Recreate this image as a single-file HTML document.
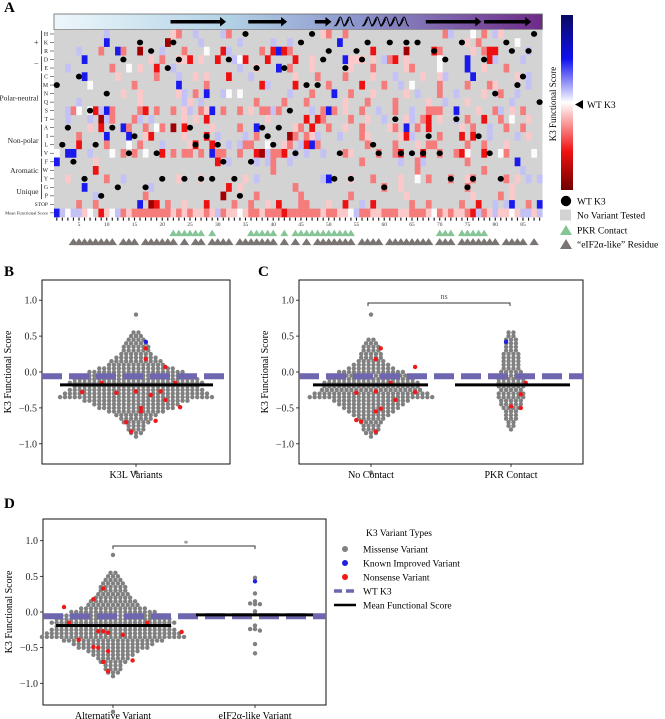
<!DOCTYPE html>
<html><head><meta charset="utf-8">
<style>
html,body{margin:0;padding:0;background:#fff;}
svg{display:block;font-family:"Liberation Serif",serif;}
</style></head>
<body>
<svg id="fig" width="665" height="719" viewBox="0 0 665 719">
<defs>
<linearGradient id="ss" x1="0" x2="1" y1="0" y2="0">
<stop offset="0" stop-color="#eef7fb"/><stop offset="0.35" stop-color="#b3d3e6"/><stop offset="0.62" stop-color="#8c96cc"/><stop offset="1" stop-color="#6e2a88"/></linearGradient>
<linearGradient id="cb" x1="0" x2="0" y1="0" y2="1">
<stop offset="0" stop-color="#0a0a60"/><stop offset="0.25" stop-color="#1010f0"/><stop offset="0.5" stop-color="#ffffff"/><stop offset="0.78" stop-color="#f01010"/><stop offset="1" stop-color="#700000"/></linearGradient>
</defs>
<g id="panelA"></g>
<g id="panelB"></g>
<g id="panelC"></g>
<g id="panelD"></g>
</svg>
<script>
// ---------- Heatmap data ----------
const rowLabels = ["H","K","R","D","E","C","M","N","Q","S","T","A","I","L","V","F","W","Y","G","P","STOP","Mean Functional Score"];
const wtSequence = "MLAFCYSLPNAGDVIKGRVYEKDYALYIYLFDYPHFEAILAESVKMHMDRYVEYRDKLVGKTVKVKVIRVDYTKGYIDVNYKRMCRHQ";
const heatRows = [
".........l" + ".........." + ".pr..l...." + "lr........" + "........pr" + "..r......." + ".........." + "rl...w.r.l" + "p.......",
".........B" + ".........." + "D.....l..." + "...l.....l" + "..l......." + ".B........" + ".........." + "....p.r..." + "...w....",
"....l...r." + ".Br..D...l" + "...r...w.." + "Rl.....r.R" + "BRr......." + ".......R.." + "...D....Rr" + ".....p.rRR" + ".....l..",
".....B...." + ".......p.r" + "..ppR.p..R" + "..lwR...R." + "...R..p..." + "..Bppp.p.l" + "rR.p.....w" + "....B...Rl" + "....l...",
"..l......." + "r..w.p..R." + ".l........" + "...l..p..." + "B.r...p..." + "...p...r.." + "...pr....w" + "....B..p.." + ".r......",
".....B...." + ".p......r." + "..l..p.p.." + ".R...l...." + "...p...r.." + "..r....p.." + ".l....p..p" + "l....B...." + "...p.l..",
"......w..." + "....r....." + "..B....r.." + ".......Rl." + "...R.....r" + ".....R...r" + "..l.w....r" + "....r...rp" + ".....l..",
".........." + "..p..p...." + "..pl.r.B.." + "lw.w......" + "..l...r..." + "B..r...p.." + "...p.l...r" + "..l....p.." + "r..l....",
"....l....." + ".....p...." + "...lp.l..." + "......r..." + ".r...r...." + "..p...r..." + ".r.....p.." + "l...p....." + "..l.....",
"..lrw.wRlB" + "r....rR.r." + ".r.pl.rpB." + "r..r.p.rrl" + "r.....l.rB" + "r.p..r..l." + ".r..l..rrr" + "..B...p..r" + "l.p.r...",
"..l...l.Dl" + "r...rl.l.." + "...p.p.R.." + "........p." + ".....R.Rr." + "...r..p..l" + "...pl.rR.p" + "..l.r..R.." + "r.w..p..",
"......p.R." + "..Br..r.wr" + ".D.R....p." + "...r..B..." + "...pr.R..r" + "..p..r...." + "pr.B.r.R.." + "...p.r..l." + ".r..r...",
"....r....B" + "...B..pR.." + "...p...R.l" + "....l.r..." + "..Dr.rpl.." + ".l...rp..." + "..pRl....r" + "...R.R..l." + "...l.p..",
"....R....r" + "...w.r...l" + "....pR..R." + ".l.lrr..w." + ".pr.lRBr.." + "......r..." + ".r...p.rr." + "....r..r.." + ".p......",
"w.BB..l..." + "w.r.r.w..R" + ".r.rr.r.Br" + "r..r..RDlr" + "rR.l.l..l." + "..rp....r." + ".rR...R..r" + "..rRw..R.." + "wr....w.",
"B......p.." + ".........." + ".........R" + ".l....l.lr" + "..l......." + ".....r...." + "..l..rl..." + "....r....." + "...B....",
".......R.." + ".........." + ".........." + ".........r" + ".........." + ".........." + ".....r...." + ".......r.." + "....l...",
"..p......r" + "..l......." + "..p...p..." + "....p.l..." + "........lB" + "...p...r.." + "..p..w.r.." + ".r..pr...." + ".r.p.l.l",
".....B...." + ".......l.." + ".........." + ".R.p......" + "...r......" + ".........r" + "..p......." + "....r....." + "..p.....",
".......l.." + "......r..." + ".........." + "D.....r..." + "....r....." + "...r......" + "...p......" + ".....p...." + "r.p.....",
"....r..r.." + ".....B.DR." + "r..p...R.." + "..r..r..p." + "R...rr...p" + "..R..l.R.." + "....r..r.." + "...r..R..l" + ".lB..r.B",
"Blwllpw.Rp" + "wlrprrrrrr" + "rprprpprpl" + "rppwprrprr" + "rRrrrrrrpr" + "rppwlrrppr" + "rrpprrrpwr" + "prpprRlrpl" + "ppwpllpl"
];
const pkrContact = [22,23,24,25,26,27,29,36,37,38,39,40,42,44,45,46,47,48,49,50,51,52,53,54,70,71,72,74,75,76,77,78];
const eif2Like = [4,5,6,7,8,9,10,11,13,14,15,17,18,19,20,21,22,24,26,27,29,30,31,32,34,35,36,37,38,39,40,42,44,46,48,49,50,51,52,53,54,56,57,58,59,61,62,63,64,65,66,67,68,70,71,72,74,75,76,77,78,79,80,82,83,84,85,87];
const levelColor = {D:"#a00000",R:"#ee1111",r:"#f67c7c",p:"#fbc9c9",w:"#fbfbfb",l:"#c2c2f6",B:"#1a1aee"};

// ---------- Swarm data (counts per 0.05 bin, from top bin value downward) ----------
const binTopB = 0.80;
const countsB = [1,0,0,0,0,2,3,4,5,6,6,7,9,11,12,16,20,24,26,28,26,28,30,32,22,18,16,12,9,7,6,4,4,3,1,0,0,0,0,0,0,0,0,0,1];
const redB = [0.33,0.18,0.07,-0.07,-0.15,-0.28,-0.29,-0.27,-0.32,-0.39,-0.49,-0.50,-0.55,-0.68,-0.70,-0.83,-0.15,-0.27];
const redSlotB = [2,2,6,-5,-7,-11,-4,0,3,6,9,1,1,4,-2,-1,8,5];
const blueB = [0.42]; const blueSlotB = [2];
const meanB = -0.18, wtScore = -0.06;

const countsC1 = [1,0,0,0,0,0,0,2,3,4,4,5,5,6,8,10,14,17,18,20,20,21,24,26,16,14,12,10,8,6,5,4,4,3,1,0,0,0,0,0,0,0,0,0,1];
const redC1 = [0.33,0.18,0.07,-0.15,-0.27,-0.29,-0.39,-0.28,-0.51,-0.55,-0.67,-0.69,-0.83];
const redSlotC1 = [2,1,9,4,1,-3,5,9,2,1,-3,-2,1];
const countsC2 = [2,2,3,3,3,3,4,4,4,4,4,5,5,6,6,6,5,6,6,5,5,4,3,3,3,2,2,1];
const binTopC2 = 0.55;
const redC2 = [-0.07,-0.15,-0.31,-0.48,-0.50];
const redSlotC2 = [-1,3,2,0,2];
const blueC2 = [0.42]; const blueSlotC2 = [-1];
const meanC1 = -0.18, meanC2 = -0.18;

const countsD1 = [1,0,0,0,0,2,3,4,5,6,6,7,8,10,11,14,18,22,24,26,24,26,28,30,21,17,15,11,9,7,6,4,4,3,1,0,0,0,0,0,0,0,0,0,1];
const redD1 = [0.33,0.18,0.07,-0.07,-0.15,-0.28,-0.29,-0.27,-0.32,-0.39,-0.49,-0.50,-0.55,-0.68,-0.70,-0.83,-0.15,-0.27];
const redSlotD1 = [-2,-4,-10,-8,-9,14,-1,-2,2,-7,-4,-3,-1,4,-2,-1,7,-3];
const eifValues = [0.48,0.26,0.15,0.12,0.11,0.11,0.01,-0.03,-0.19,-0.24,-0.24,-0.26,-0.45,-0.58];
const eifSlots = [0,0,0,-1,0,1,0,0,0,-1,0,1,0,0];
const blueD2 = [0.43];
const meanD1 = -0.19, meanD2 = -0.04;

// ---------- helpers ----------
const NS = "http://www.w3.org/2000/svg";
function mk(parent, tag, attrs, text){
  const e = document.createElementNS(NS, tag);
  for (const k in attrs) e.setAttribute(k, attrs[k]);
  if (text !== undefined) e.textContent = text;
  parent.appendChild(e);
  return e;
}

// ---------- Panel A ----------
const A = document.getElementById("panelA");
const hx0 = 54, cw = 5.55, hy0 = 29.7, rh = 8.52, nCols = 88;
const colX = c => hx0 + (c - 1) * cw;
const rowY = r => hy0 + r * rh;

let t = mk(A, "text", {x:4, y:12, "font-size":15, "font-weight":"bold"}, "A");



let bar = mk(A, "rect", {x:hx0, y:14, width:nCols*cw, height:15.5, fill:"url(#ss)", stroke:"#666", "stroke-width":0.8});


const strands = [[22,32],[36,43],[48,51],[68,78],[78.5,87]];
strands.forEach(s => {
  const x1 = colX(s[0]), x2 = colX(s[1]);
  const a = mk(A, "path", {d:`M${x1} 20 L${x2-6} 20 L${x2-6} 17 L${x2} 21.8 L${x2-6} 26.5 L${x2-6} 23.5 L${x1} 23.5 Z`, fill:"#000"});
  
  
});
const helices = [[51.5,55],[56.5,65]];
helices.forEach(h => {
  let d = "";
  for (let x = colX(h[0]); x < colX(h[1]) - 4; x += 9) {
    d += `M${x} 26 C${x+3} 26 ${x+4} 17 ${x+6} 17 C${x+8} 17 ${x+8} 26 ${x+11} 26 M${x+1.5} 26 C${x+4} 24 ${x+5} 19 ${x+6} 19 `;
  }
  const p = mk(A, "path", {d:d, fill:"none", stroke:"#000", "stroke-width":1});
  
  
});

let bg = mk(A, "rect", {x:hx0, y:hy0, width:nCols*cw, height:rowLabels.length*rh, fill:"#d3d3d3"});



heatRows.forEach((row, r) => {
  for (let c = 1; c <= nCols; c++) {
    const ch = row[c-1];
    if (!ch || !levelColor[ch]) continue;
    const cell = mk(A, "rect", {x:colX(c), y:rowY(r), width:cw+0.2, height:rh+0.2, fill:levelColor[ch]});
    
    
  }
});
for (let c = 1; c <= nCols; c++) {
  const r = rowLabels.indexOf(wtSequence[c-1]);
  if (r < 0) continue;
  const d = mk(A, "ellipse", {cx:colX(c)+cw/2, cy:rowY(r)+rh/2, rx:3.1, ry:2.9, fill:"#000"});
  
  
}
rowLabels.forEach((lab, r) => {
  const y = rowY(r) + rh/2;
  const small = lab.length > 1;
  const tx = mk(A, "text", {x:48, y:y+1.8, "font-size":small ? (lab.length > 5 ? 4.6 : 5.5) : 5.8, "text-anchor":"end", fill:"#222"}, lab);
  
  
  const tk = mk(A, "line", {x1:50, x2:hx0, y1:y, y2:y, stroke:"#333", "stroke-width":0.6});
  
  
});
const groups = [["+",0,2],["\u2212",3,4],["Polar-neutral",5,10],["Non-polar",11,14],["Aromatic",15,17],["Unique",18,19]];
groups.forEach(g => {
  const y1 = rowY(g[1]) + 1, y2 = rowY(g[2] + 1) - 1;
  const l = mk(A, "line", {x1:41.5, x2:41.5, y1:y1, y2:y2, stroke:"#222", "stroke-width":0.8});
  
  
  const tx = mk(A, "text", {x:38.5, y:(y1+y2)/2 + 2.5, "font-size":g[0].length > 1 ? 7.5 : 8, "text-anchor":"end", fill:"#222"}, g[0]);
  
  
});
const axY = rowY(rowLabels.length);
for (let c = 1; c <= nCols; c++) {
  const x = colX(c) + cw/2;
  const tk = mk(A, "line", {x1:x, x2:x, y1:axY+0.5, y2:axY+3.5, stroke:"#111", "stroke-width":1.1});
  
  
  if (c % 5 === 0) {
    const tx = mk(A, "text", {x:x, y:axY+9, "font-size":5.5, "text-anchor":"middle", fill:"#333"}, String(c));
    
    
  }
}
function tri(c, y, color, name, w, h){
  const x = colX(c) + cw/2;
  const p = mk(A, "polygon", {points:`${x-w/2},${y+h} ${x+w/2},${y+h} ${x},${y}`, fill:color});
  
  
}
pkrContact.forEach(c => tri(c, axY+12.5, "#86c596", "pkr-contact-marker", 8, 6.5));
eif2Like.forEach(c => tri(c, axY+21, "#7a7473", "eif2-like-marker", 9.5, 7));

let cbr = mk(A, "rect", {x:561, y:15, width:12, height:175, fill:"url(#cb)"});


let cbt = mk(A, "text", {x:0, y:0, "font-size":9, "text-anchor":"middle", transform:"translate(556,104) rotate(-90)"}, "K3 Functional Score");


let wtm = mk(A, "polygon", {points:"575,104.5 583,100 583,109", fill:"#000"});


let wtt = mk(A, "text", {x:587, y:108, "font-size":9.5}, "WT K3");


const legA = [["dot","WT K3",201],["sq","No Variant Tested",215],["tg","PKR Contact",230],["tk","\u201ceIF2\u03b1-like\u201d Residue",244]];
legA.forEach(L => {
  const y = L[2];
  let m;
  if (L[0] === "dot") m = mk(A, "circle", {cx:566, cy:y, r:5.2, fill:"#000"});
  else if (L[0] === "sq") m = mk(A, "rect", {x:560, y:y-5.5, width:11, height:11, fill:"#d3d3d3"});
  else m = mk(A, "polygon", {points:`560,${y+5} 572,${y+5} 566,${y-5}`, fill:L[0]==="tg" ? "#86c596" : "#7a7473"});
  
  
  const tx = mk(A, "text", {x:577, y:y+3.5, "font-size":9.5}, L[1]);
  
  
});

// ---------- swarm helpers ----------
const dotStep = 4.9, dotR = 2.2;
function slotOffset(i){
  if (i === 0) return 0;
  return (i % 2 === 1 ? 1 : -1) * Math.ceil(i / 2);
}
function drawSwarm(g, counts, topVal, cx, yScale){
  counts.forEach((n, k) => {
    const v = topVal - k * 0.05;
    const y = yScale(v);
    const even = n % 2 === 0;
    for (let i = 0; i < n; i++) {
      let off;
      if (even) { const j = Math.floor(i/2); off = (i % 2 ? 1 : -1) * (j + 0.5); }
      else off = slotOffset(i);
      const d = mk(g, "circle", {cx:cx + off*dotStep, cy:y, r:dotR, fill:"#808080"});
      
      
    }
  });
}
function drawMarked(g, vals, slots, cx, yScale, color, name){
  vals.forEach((v, i) => {
    const d = mk(g, "circle", {cx:cx + slots[i]*dotStep, cy:yScale(v), r:dotR, fill:color});
    
    
  });
}
function frame(g, x1, y1, x2, y2, ys, ticks, label, labY){
  const f = mk(g, "rect", {x:x1, y:y1, width:x2-x1, height:y2-y1, fill:"none", stroke:"#111", "stroke-width":1});
  
  
  ticks.forEach(v => {
    const y = ys(v);
    const tk = mk(g, "line", {x1:x1-3, x2:x1, y1:y, y2:y, stroke:"#111", "stroke-width":0.8});
    
    
    const tx = mk(g, "text", {x:x1-5, y:y+3.5, "font-size":10, "text-anchor":"end", fill:"#222"}, (v < 0 ? "\u2212" : "") + Math.abs(v).toFixed(1));
    
    
  });
  const yt = mk(g, "text", {x:0, y:0, "font-size":10, "text-anchor":"middle", transform:`translate(${x1-31},${labY}) rotate(-90)`}, "K3 Functional Score");
  
  
}
function xcat(g, x, y2, label){
  const tk = mk(g, "line", {x1:x, x2:x, y1:y2, y2:y2+3, stroke:"#111", "stroke-width":0.8});
  
  
  const tx = mk(g, "text", {x:x, y:y2+14, "font-size":10, "text-anchor":"middle"}, label);
  
  
}
function wtLine(g, x1, x2, y){
  const l = mk(g, "line", {x1:x1, x2:x2, y1:y, y2:y, stroke:"#6f66b0", "stroke-width":6, "stroke-dasharray":"20 7"});
  
  
}
function meanLine(g, x1, x2, y){
  const l = mk(g, "line", {x1:x1, x2:x2, y1:y, y2:y, stroke:"#000", "stroke-width":3});
  
  
}
function panelLabel(g, x, y, s){
  const t = mk(g, "text", {x:x, y:y, "font-size":15, "font-weight":"bold"}, s);
  
  
}
function bracket(g, x1, x2, y, label, lx, ly){
  const p = mk(g, "path", {d:`M${x1} ${y+3} L${x1} ${y} L${x2} ${y} L${x2} ${y+3}`, fill:"none", stroke:"#333", "stroke-width":1});
  
  
  const t = mk(g, "text", {x:lx, y:ly, "font-size":label === "ns" ? 8 : 9, "text-anchor":"middle", fill:"#555"}, label);
  
  
}
const ticksY = [1.0,0.5,0.0,-0.5,-1.0];

// ---------- Panel B ----------
const B = document.getElementById("panelB");
const ysB = v => 372 - 71.8 * v;
panelLabel(B, 4, 276, "B");
frame(B, 42, 280, 230, 464, ysB, ticksY, "", 372);
drawSwarm(B, countsB, binTopB, 136, ysB);
drawMarked(B, redB, redSlotB, 136, ysB, "#f01818", "nonsense-variant-point");
drawMarked(B, blueB, blueSlotB, 136, ysB, "#2020e0", "known-improved-variant-point");
wtLine(B, 42, 230, ysB(wtScore));
meanLine(B, 60, 213, ysB(meanB));
xcat(B, 136, 464, "K3L Variants");

// ---------- Panel C ----------
const C = document.getElementById("panelC");
panelLabel(C, 258, 276, "C");
frame(C, 299, 280, 583, 464, ysB, ticksY, "", 372);
drawSwarm(C, countsC1, binTopB, 371, ysB);
drawMarked(C, redC1, redSlotC1, 371, ysB, "#f01818", "nonsense-variant-point");
drawSwarm(C, countsC2, binTopC2, 511, ysB);
drawMarked(C, redC2, redSlotC2, 511, ysB, "#f01818", "nonsense-variant-point");
drawMarked(C, blueC2, blueSlotC2, 511, ysB, "#2020e0", "known-improved-variant-point");
wtLine(C, 299, 583, ysB(wtScore));
meanLine(C, 313, 428, ysB(meanC1));
meanLine(C, 455, 570, ysB(meanC2));
xcat(C, 371, 464, "No Contact");
xcat(C, 511, 464, "PKR Contact");
bracket(C, 368, 510, 303, "ns", 444, 299);

// ---------- Panel D ----------
const Dg = document.getElementById("panelD");
const ysD = v => 612 - 71.3 * v;
panelLabel(Dg, 4, 508, "D");
frame(Dg, 43, 519, 326, 705, ysD, ticksY, "", 612);
drawSwarm(Dg, countsD1, binTopB, 113, ysD);
drawMarked(Dg, redD1, redSlotD1, 113, ysD, "#f01818", "nonsense-variant-point");
drawMarked(Dg, eifValues, eifSlots, 255, ysD, "#808080", "missense-variant-point");
drawMarked(Dg, blueD2, [0], 255, ysD, "#2020e0", "known-improved-variant-point");
wtLine(Dg, 43, 326, ysD(wtScore));
meanLine(Dg, 56, 171, ysD(meanD1));
meanLine(Dg, 196, 313, ysD(meanD2));
xcat(Dg, 113, 705, "Alternative Variant");
xcat(Dg, 255, 705, "eIF2\u03b1-like Variant");
bracket(Dg, 113, 255, 546, "*", 186, 547);

let lt = mk(Dg, "text", {x:366, y:536, "font-size":9.5}, "K3 Variant Types");


const legD = [["#808080","Missense Variant",549],["#2020e0","Known Improved Variant",563],["#f01818","Nonsense Variant",577],["wt","WT K3",591],["mean","Mean Functional Score",605]];
legD.forEach(L => {
  let m;
  if (L[0] === "wt") m = mk(Dg, "line", {x1:334, x2:356, y1:L[2], y2:L[2], stroke:"#6f66b0", "stroke-width":3.5, "stroke-dasharray":"8 4"});
  else if (L[0] === "mean") m = mk(Dg, "line", {x1:334, x2:356, y1:L[2], y2:L[2], stroke:"#000", "stroke-width":2.5});
  else m = mk(Dg, "circle", {cx:345, cy:L[2], r:3, fill:L[0]});
  
  
  const tx = mk(Dg, "text", {x:363, y:L[2]+3.5, "font-size":9.5}, L[1]);
  
  
});
</script>
</body></html>
